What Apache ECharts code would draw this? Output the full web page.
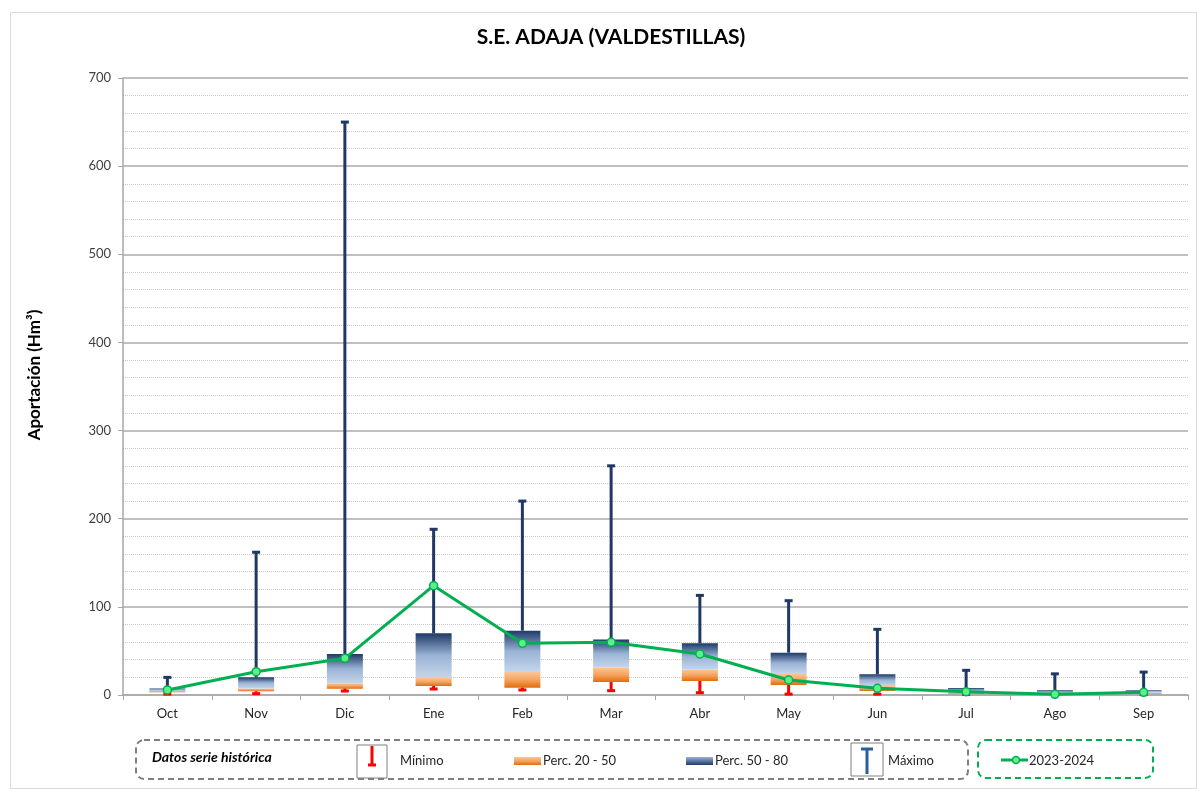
<!DOCTYPE html>
<html lang="es">

<head>
    <meta charset="UTF-8">
    <title>S.E. ADAJA (VALDESTILLAS)</title>
    <script src="https://cdn.jsdelivr.net/npm/echarts@6/dist/echarts.min.js"></script>
    <style>
        html, body { margin: 0; padding: 0; background: #fff; }
        #chart { width: 1197px; height: 789px; }
    </style>
</head>

<body>
    <div id="chart"></div>
    <script>
        // datos (Hm3)
        var meses = ['Oct', 'Nov', 'Dic', 'Ene', 'Feb', 'Mar', 'Abr', 'May', 'Jun', 'Jul', 'Ago', 'Sep'];
        var minimo = [1, 1.5, 4.5, 6.8, 5.7, 4.9, 2.6, 1, 1, 0.5, 0.3, 0.5];
        var perc20 = [3, 4.2, 7.2, 10.2, 8.3, 14.7, 15.9, 11.3, 4.5, 1.5, 1, 1.5];
        var perc50 = [4.5, 7.5, 13.2, 19.3, 26, 31, 28.7, 23.8, 10.2, 3, 2, 2.5];
        var perc80 = [7.5, 20, 46.5, 70, 73, 63, 58.6, 48, 23.5, 8, 5.3, 5.5];
        var maximo = [20, 162, 650, 188, 220, 260, 113, 107, 74.5, 28, 24, 26];
        var actual = [5.7, 26.4, 41.6, 124, 58.6, 59.8, 46.5, 17, 7.6, 3.8, 0.8, 3];
        var yTicks = [0, 100, 200, 300, 400, 500, 600, 700];

        var fuente = 'Lato, "Open Sans", sans-serif';
        var gris = '#A6A6A6';

        var base = [], tramo1 = [], tramo2 = [], bigote1 = [], bigote2 = [];
        for (var i = 0; i < meses.length; i++) {
            base.push(perc20[i]);
            tramo1.push(perc50[i] - perc20[i]);
            tramo2.push(perc80[i] - perc50[i]);
            bigote1.push([i, perc20[i], minimo[i]]);
            bigote2.push([i, perc80[i], maximo[i]]);
        }

        function bigote(color) {
            return function (params, api) {
                var a = api.coord([api.value(0), api.value(1)]);
                var b = api.coord([api.value(0), api.value(2)]);
                return {
                    type: 'group',
                    children: [
                        { type: 'line', shape: { x1: a[0], y1: a[1], x2: b[0], y2: b[1] }, style: { stroke: color, lineWidth: 3 } },
                        { type: 'line', shape: { x1: b[0] - 4, y1: b[1], x2: b[0] + 4, y2: b[1] }, style: { stroke: color, lineWidth: 3 } }
                    ]
                };
            };
        }

        var naranja = new echarts.graphic.LinearGradient(0, 0, 0, 1, [
            { offset: 0, color: '#FAC597' }, { offset: 0.5, color: '#F4A460' }, { offset: 1, color: '#E46C0A' }
        ]);
        var azul = new echarts.graphic.LinearGradient(0, 0, 0, 1, [
            { offset: 0, color: '#1F3A68' }, { offset: 0.5, color: '#9AB3D5' }, { offset: 1, color: '#C6D6EB' }
        ]);

        // leyenda dibujada a mano (dos cajas discontinuas)
        var leyenda = [
            { type: 'rect', left: 8, top: 10, shape: { width: 1186, height: 776 }, style: { fill: 'none', stroke: '#D9D9D9', lineWidth: 1 } },
            {
                type: 'text', x: 35, y: 375, rotation: Math.PI / 2,
                style: { text: 'Aportación (Hm³)', font: 'bold 17px ' + fuente, fill: '#000', textAlign: 'center', textVerticalAlign: 'middle' }
            },
            { type: 'rect', shape: { x: 136, y: 740, width: 832, height: 39, r: 8 }, style: { fill: 'none', stroke: '#7F7F7F', lineWidth: 2, lineDash: [6, 4] } },
            { type: 'rect', shape: { x: 978, y: 740, width: 175, height: 38, r: 8 }, style: { fill: 'none', stroke: '#00B050', lineWidth: 2, lineDash: [6, 4] } },
            { type: 'text', x: 152, y: 757, style: { text: 'Datos serie histórica', font: 'italic bold 14px ' + fuente, fill: '#000', textVerticalAlign: 'middle' } },
            { type: 'rect', shape: { x: 357, y: 745, width: 30, height: 33 }, style: { fill: '#fff', stroke: '#808080', lineWidth: 1 } },
            { type: 'line', shape: { x1: 372, y1: 746, x2: 372, y2: 765 }, style: { stroke: '#FF0000', lineWidth: 3 } },
            { type: 'line', shape: { x1: 368, y1: 765, x2: 376, y2: 765 }, style: { stroke: '#FF0000', lineWidth: 3 } },
            { type: 'text', x: 400, y: 761, style: { text: 'Mínimo', font: '13px ' + fuente, fill: '#262626', textVerticalAlign: 'middle' } },
            { type: 'rect', shape: { x: 514, y: 757, width: 27, height: 8 }, style: { fill: naranja } },
            { type: 'text', x: 543, y: 761, style: { text: 'Perc. 20 - 50', font: '13px ' + fuente, fill: '#262626', textVerticalAlign: 'middle' } },
            { type: 'rect', shape: { x: 686, y: 757, width: 27, height: 8 }, style: { fill: new echarts.graphic.LinearGradient(0, 0, 0, 1, [{ offset: 0, color: '#9AB3D5' }, { offset: 1, color: '#1F3A68' }]) } },
            { type: 'text', x: 715, y: 761, style: { text: 'Perc. 50 - 80', font: '13px ' + fuente, fill: '#262626', textVerticalAlign: 'middle' } },
            { type: 'rect', shape: { x: 851, y: 743, width: 32, height: 33 }, style: { fill: '#fff', stroke: '#808080', lineWidth: 1 } },
            { type: 'line', shape: { x1: 867, y1: 748, x2: 867, y2: 774 }, style: { stroke: '#2E5C9A', lineWidth: 3 } },
            { type: 'line', shape: { x1: 861, y1: 749, x2: 873, y2: 749 }, style: { stroke: '#2E5C9A', lineWidth: 3 } },
            { type: 'text', x: 888, y: 761, style: { text: 'Máximo', font: '13px ' + fuente, fill: '#262626', textVerticalAlign: 'middle' } },
            { type: 'line', shape: { x1: 1001, y1: 760, x2: 1028, y2: 760 }, style: { stroke: '#00B050', lineWidth: 3 } },
            { type: 'circle', shape: { cx: 1016, cy: 760, r: 3.5 }, style: { fill: '#5CF08A', stroke: '#00B050', lineWidth: 1.5 } },
            { type: 'text', x: 1029, y: 761, style: { text: '2023-2024', font: '13px ' + fuente, fill: '#262626', textVerticalAlign: 'middle' } }
        ];

        var myChart = echarts.init(document.getElementById('chart'));
        var option = {
            animation: false,
            title: {
                text: 'S.E. ADAJA (VALDESTILLAS)',
                left: 606,
                top: 22,
                textAlign: 'center',
                textStyle: { fontFamily: fuente, fontSize: 21, fontWeight: 'bold', color: '#000' }
            },
            grid: { left: 123, right: 9, top: 78, bottom: 94 },
            xAxis: {
                type: 'category',
                data: meses,
                boundaryGap: true,
                axisLine: { lineStyle: { color: gris, width: 1.5 } },
                axisTick: { show: true, length: 5, lineStyle: { color: gris } },
                axisLabel: { color: '#262626', fontFamily: fuente, fontSize: 13, margin: 12 }
            },
            yAxis: {
                type: 'value',
                min: yTicks[0],
                max: yTicks[yTicks.length - 1],
                interval: 100,
                axisLine: { show: true, lineStyle: { color: gris, width: 1.5 } },
                axisTick: { show: true, length: 5, lineStyle: { color: gris } },
                axisLabel: { color: '#404040', fontFamily: fuente, fontSize: 13, margin: 12 },
                splitLine: { show: true, lineStyle: { color: '#ABABAB', width: 1.5 } },
                minorTick: { show: false, splitNumber: 5 },
                minorSplitLine: { show: true, lineStyle: { color: '#C8C8C8', type: 'dotted' } }
            },
            series: [
                { type: 'bar', stack: 'caja', data: base, barWidth: 36, itemStyle: { color: 'transparent' }, silent: true },
                { type: 'bar', stack: 'caja', data: tramo1, barWidth: 36, itemStyle: { color: naranja } },
                { type: 'bar', stack: 'caja', data: tramo2, barWidth: 36, itemStyle: { color: azul } },
                { type: 'custom', data: bigote1, renderItem: bigote('#FF0000'), z: 3 },
                { type: 'custom', data: bigote2, renderItem: bigote('#1F3864'), z: 3 },
                {
                    type: 'line',
                    data: actual,
                    z: 5,
                    symbol: 'circle',
                    symbolSize: 8,
                    lineStyle: { color: '#00B050', width: 3 },
                    itemStyle: { color: '#5CF08A', borderColor: '#00B050', borderWidth: 1.5 }
                }
            ],
            graphic: leyenda
        };
        myChart.setOption(option);
    </script>
</body>

</html>
